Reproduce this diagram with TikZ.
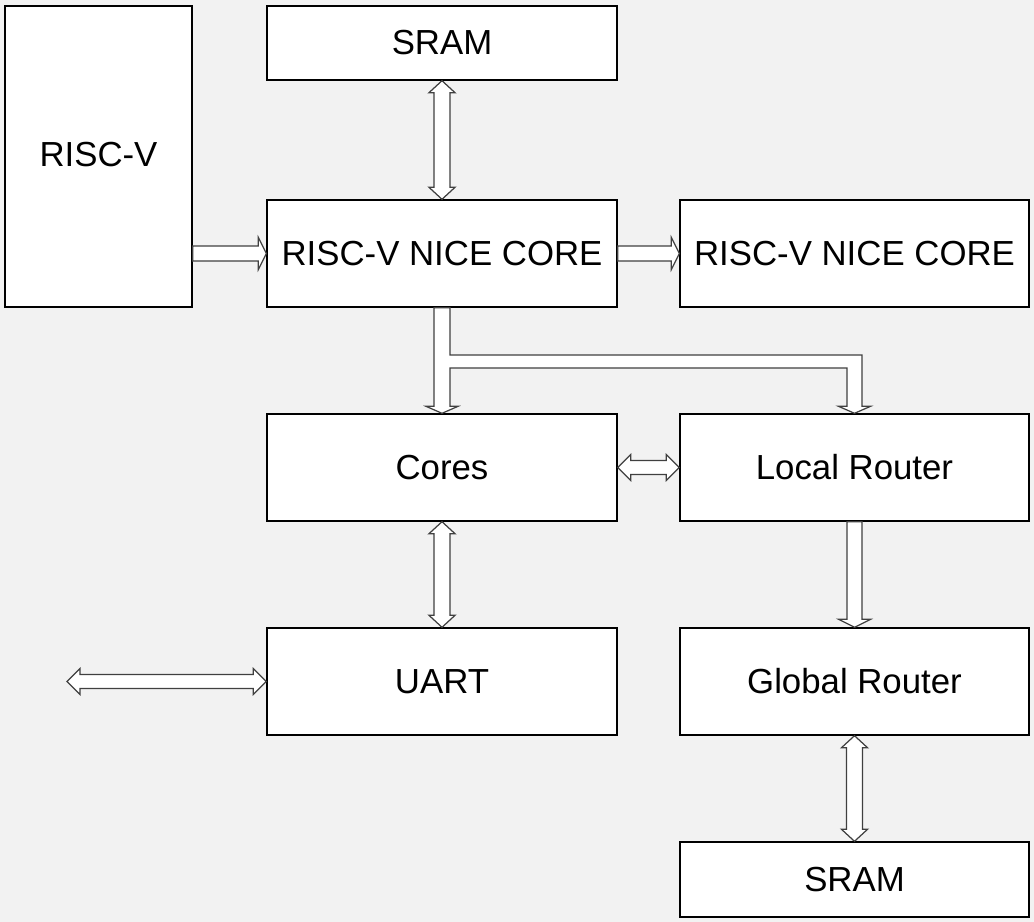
\documentclass[tikz,border=0pt]{standalone}
\usepackage{fontspec}
\setmainfont{Liberation Sans}
\usetikzlibrary{calc}

\definecolor{pagegray}{HTML}{F2F2F2}
\definecolor{arrowline}{HTML}{404040}

\tikzset{
  box/.style={draw=black, fill=white, line width=0.8pt, inner sep=0pt,
    minimum width=7cm, minimum height=2.14cm,
    font=\fontsize{19.8}{24}\selectfont},
  blockarrow/.style={draw=arrowline, fill=white, line width=0.7pt, line join=miter}
}

% hollow block arrows, ends given as node anchors / coordinates
\newcommand{\vbiarrow}[2]{% #1 top tip, #2 bottom tip
  \draw[blockarrow] (#1) -- ($(#1)+(13,12)$) -- ($(#1)+(8,12)$) -- ($(#2)+(8,-12)$)
    -- ($(#2)+(13,-12)$) -- (#2) -- ($(#2)+(-13,-12)$) -- ($(#2)+(-8,-12)$)
    -- ($(#1)+(-8,12)$) -- ($(#1)+(-13,12)$) -- cycle;}
\newcommand{\hbiarrow}[2]{% #1 left tip, #2 right tip
  \draw[blockarrow] (#1) -- ($(#1)+(13,-13)$) -- ($(#1)+(13,-7)$) -- ($(#2)+(-13,-7)$)
    -- ($(#2)+(-13,-13)$) -- (#2) -- ($(#2)+(-13,13)$) -- ($(#2)+(-13,7)$)
    -- ($(#1)+(13,7)$) -- ($(#1)+(13,13)$) -- cycle;}
\newcommand{\hfwdarrow}[2]{% #1 tail, #2 tip
  \draw[blockarrow] ($(#1)+(0,-7.5)$) -- ($(#2)+(-8,-7.5)$) -- ($(#2)+(-8,-16)$) -- (#2)
    -- ($(#2)+(-8,16)$) -- ($(#2)+(-8,7.5)$) -- ($(#1)+(0,7.5)$) -- cycle;}
\newcommand{\vfwdarrow}[2]{% #1 tail, #2 tip
  \draw[blockarrow] ($(#1)+(-7.5,0)$) -- ($(#2)+(-7.5,-8)$) -- ($(#2)+(-16,-8)$) -- (#2)
    -- ($(#2)+(16,-8)$) -- ($(#2)+(7.5,-8)$) -- ($(#1)+(7.5,0)$) -- cycle;}

\begin{document}
\begin{tikzpicture}[x=0.02cm, y=-0.02cm]
  \fill[pagegray] (0,0) rectangle (1034,922);
  \useasboundingbox (0,0) rectangle (1034,922);

  % boxes
  \node[box, minimum width=3.74cm, minimum height=6.02cm] (risc) at (98.5,156.5) {};
  \node[font=\fontsize{19.8}{24}\selectfont] (risclabel) at (98.5,155) {RISC-V};
  \node[box, minimum height=1.48cm] (sramtop) at (442,43) {SRAM};
  \node[box] (nice) at (442,253.5) {RISC-V NICE CORE};
  \node[box, minimum width=6.98cm] (niceright) at (854.5,253.5) {RISC-V NICE CORE};
  \node[box] (cores) at (442,467.5) {Cores};
  \node[box, minimum width=6.98cm] (local) at (854.5,467.5) {Local Router};
  \node[box] (uart) at (442,681.5) {UART};
  \node[box, minimum width=6.98cm] (global) at (854.5,681.5) {Global Router};
  \node[box, minimum width=6.98cm, minimum height=1.5cm] (srambot) at (854.5,879.5) {SRAM};

  \coordinate (riscout) at (risc.east |- nice.west);
  \coordinate (ext) at (67,681.5);
  \coordinate (branch) at (442,361.5);
  \coordinate (corner) at (branch -| local.north);

  % connectors
  \vbiarrow{sramtop.south}{nice.north}
  \hfwdarrow{riscout}{nice.west}
  \hfwdarrow{nice.east}{niceright.west}
  \hbiarrow{cores.east}{local.west}
  \vbiarrow{cores.south}{uart.north}
  \hbiarrow{ext}{uart.west}
  \vfwdarrow{local.south}{global.north}
  \vbiarrow{global.south}{srambot.north}

  % split arrow from the NICE core to cores and local router
  \draw[blockarrow] ($(nice.south)+(-8,0)$) -- ($(cores.north)+(-8,-7)$)
    -- ($(cores.north)+(-16,-7)$) -- (cores.north) -- ($(cores.north)+(16,-7)$)
    -- ($(cores.north)+(8,-7)$) -- ($(branch)+(8,6.5)$) -- ($(corner)+(-7.5,6.5)$)
    -- ($(local.north)+(-7.5,-7)$) -- ($(local.north)+(-16,-7)$) -- (local.north)
    -- ($(local.north)+(16,-7)$) -- ($(local.north)+(7.5,-7)$)
    -- ($(corner)+(7.5,-6.5)$) -- ($(branch)+(8,-6.5)$) -- ($(nice.south)+(8,0)$) -- cycle;
\end{tikzpicture}
\end{document}
